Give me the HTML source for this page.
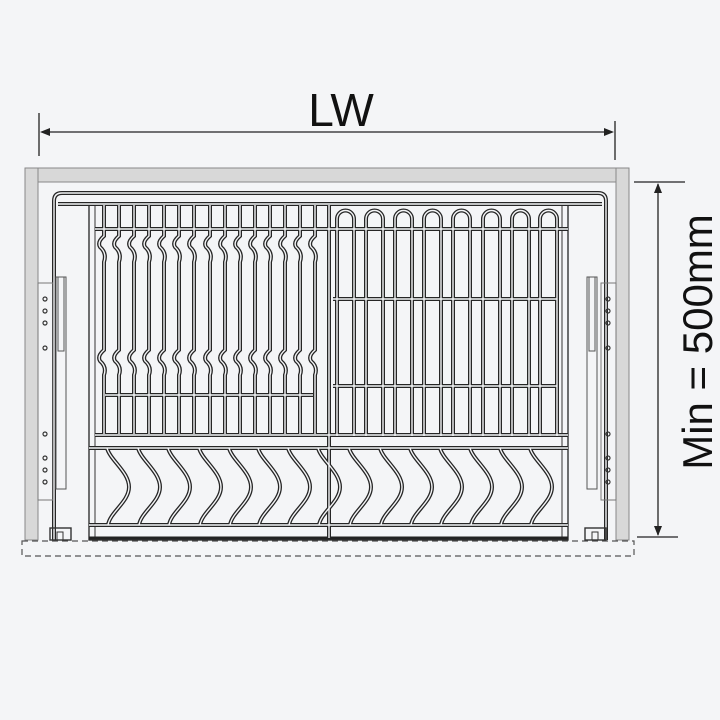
<!DOCTYPE html>
<html><head><style>html,body{margin:0;padding:0;background:#f4f5f7}svg{display:block}</style></head>
<body>
<svg width="720" height="720" viewBox="0 0 720 720" xmlns="http://www.w3.org/2000/svg">
<rect width="720" height="720" fill="#f4f5f7"/>
<defs>
  <path id="lw" d="M0 205 V236 Q-7 242 -4 247 Q3 253 0 262 V350 Q-7 356 -4 361 Q3 367 0 375 V434"/>
  <path id="wv" d="M0 448 C3 460 22 472 22 487 C22 502 3 512 1 525"/>
  <path id="uu" d="M0 436 V219 A8.5 8.5 0 0 1 17 219 V436"/>
  <g id="L">
    <use href="#lw" x="104"/><use href="#lw" x="119"/><use href="#lw" x="134"/><use href="#lw" x="149"/><use href="#lw" x="164"/>
    <use href="#lw" x="179"/><use href="#lw" x="194"/><use href="#lw" x="210"/><use href="#lw" x="225"/><use href="#lw" x="240"/>
    <use href="#lw" x="255"/><use href="#lw" x="270"/><use href="#lw" x="285"/><use href="#lw" x="300"/><use href="#lw" x="315"/>
    <use href="#wv" x="107"/><use href="#wv" x="138"/><use href="#wv" x="168"/><use href="#wv" x="199"/><use href="#wv" x="229"/>
    <use href="#wv" x="258"/><use href="#wv" x="288"/><use href="#wv" x="318"/><use href="#wv" x="349"/><use href="#wv" x="380"/>
    <use href="#wv" x="410"/><use href="#wv" x="440"/><use href="#wv" x="470"/><use href="#wv" x="500"/><use href="#wv" x="530"/>
    <use href="#uu" x="337"/><use href="#uu" x="366"/><use href="#uu" x="395"/><use href="#uu" x="424"/><use href="#uu" x="453"/>
    <use href="#uu" x="483"/><use href="#uu" x="512"/><use href="#uu" x="540"/>
    <path d="M95 229 H568 M105 395 H313 M333 299 H557 M333 386 H557 M95 435 H568 M89 448 H568 M89 525 H568"/>
    <path d="M54 540 V201 Q54 193 62 193 H598 Q606 193 606 201 V540"/>
    <path d="M58 204 H602"/>
    <path d="M329 205 V538"/>
  </g>
</defs>
<rect x="25" y="168" width="604" height="14" fill="#d8d8d8" stroke="#888" stroke-width="1"/>
<rect x="25" y="168" width="13" height="372" fill="#d8d8d8" stroke="#888" stroke-width="1"/>
<rect x="616" y="168" width="13" height="372" fill="#d8d8d8" stroke="#888" stroke-width="1"/>
<rect x="22" y="541" width="612" height="15" fill="none" stroke="#555" stroke-width="1.2" stroke-dasharray="6 4"/>
<rect x="89" y="205" width="479" height="335" fill="none" stroke="#333" stroke-width="1.4"/>
<line x1="95" y1="205" x2="95" y2="540" stroke="#333" stroke-width="1"/>
<line x1="562" y1="205" x2="562" y2="540" stroke="#333" stroke-width="1"/>
<line x1="89" y1="538" x2="568" y2="538" stroke="#222" stroke-width="3"/>
<use href="#L" fill="none" stroke="#262626" stroke-width="4"/>
<use href="#L" fill="none" stroke="#f4f5f7" stroke-width="1.4"/>
<rect x="38" y="283" width="15" height="217" fill="none" stroke="#777" stroke-width="1"/>
<rect x="56" y="277" width="10" height="212" fill="none" stroke="#555" stroke-width="1"/>
<rect x="58" y="277" width="6" height="74" fill="none" stroke="#555" stroke-width="1"/>
<g fill="none" stroke="#333" stroke-width="1.2">
<circle cx="45" cy="299" r="2"/><circle cx="45" cy="311" r="2"/><circle cx="45" cy="323" r="2"/><circle cx="45" cy="348" r="2"/>
<circle cx="45" cy="434" r="2"/><circle cx="45" cy="458" r="2"/><circle cx="45" cy="470" r="2"/><circle cx="45" cy="482" r="2"/>
<circle cx="608" cy="299" r="2"/><circle cx="608" cy="311" r="2"/><circle cx="608" cy="323" r="2"/><circle cx="608" cy="348" r="2"/>
<circle cx="608" cy="434" r="2"/><circle cx="608" cy="458" r="2"/><circle cx="608" cy="470" r="2"/><circle cx="608" cy="482" r="2"/>
</g>
<rect x="601" y="283" width="15" height="217" fill="none" stroke="#777" stroke-width="1"/>
<rect x="587" y="277" width="10" height="212" fill="none" stroke="#555" stroke-width="1"/>
<rect x="589" y="277" width="6" height="74" fill="none" stroke="#555" stroke-width="1"/>
<rect x="50" y="528" width="21" height="12" fill="none" stroke="#333" stroke-width="1.4"/>
<rect x="57" y="532" width="6" height="8" fill="none" stroke="#333" stroke-width="1"/>
<rect x="585" y="528" width="21" height="12" fill="none" stroke="#333" stroke-width="1.4"/>
<rect x="592" y="532" width="6" height="8" fill="none" stroke="#333" stroke-width="1"/>
<g stroke="#222" stroke-width="1.3">
<line x1="39" y1="113" x2="39" y2="156"/>
<line x1="615" y1="121" x2="615" y2="160"/>
<line x1="42" y1="132" x2="612" y2="132"/>
</g>
<polygon points="40,132 50,128 50,136" fill="#222"/>
<polygon points="614,132 604,128 604,136" fill="#222"/>
<text x="341" y="126" text-anchor="middle" font-family="Liberation Sans, sans-serif" font-size="46" fill="#111">LW</text>
<g stroke="#222" stroke-width="1.3">
<line x1="634" y1="182" x2="685" y2="182"/>
<line x1="637" y1="537" x2="678" y2="537"/>
<line x1="658" y1="184" x2="658" y2="535"/>
</g>
<polygon points="658,183 654,193 662,193" fill="#222"/>
<polygon points="658,536 654,526 662,526" fill="#222"/>
<text transform="translate(712,342) rotate(-90)" text-anchor="middle" font-family="Liberation Sans, sans-serif" font-size="42" fill="#111">Min = 500mm</text>
</svg>
</body></html>
